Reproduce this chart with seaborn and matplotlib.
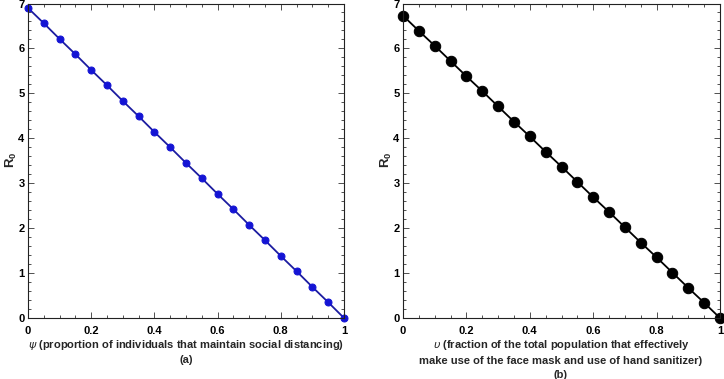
import numpy as np
import pandas as pd
import matplotlib
matplotlib.use("Agg")
import matplotlib.pyplot as plt
from matplotlib.ticker import MultipleLocator
import seaborn as sns

# data
psi = [0.0, 0.05, 0.10, 0.15, 0.20, 0.25, 0.30, 0.35, 0.40, 0.45, 0.50,
       0.55, 0.60, 0.65, 0.70, 0.75, 0.80, 0.85, 0.90, 0.95, 1.0]
r0_a = [6.90, 6.56, 6.21, 5.87, 5.52, 5.18, 4.83, 4.49, 4.14, 3.80, 3.45,
        3.11, 2.76, 2.42, 2.07, 1.73, 1.38, 1.04, 0.69, 0.35, 0.0]
upsilon = list(psi)
r0_b = [6.73, 6.39, 6.06, 5.72, 5.38, 5.05, 4.71, 4.37, 4.04, 3.70, 3.37,
        3.03, 2.69, 2.36, 2.02, 1.68, 1.35, 1.01, 0.67, 0.34, 0.0]
x_ticks = [0, 0.2, 0.4, 0.6, 0.8, 1]
x_tick_labels = ["0", "0.2", "0.4", "0.6", "0.8", "1"]
y_ticks = [0, 1, 2, 3, 4, 5, 6, 7]

sns.set_style("ticks")
plt.rcParams['font.family'] = ['Liberation Sans', 'DejaVu Sans']
plt.rcParams['mathtext.fontset'] = 'custom'
plt.rcParams['mathtext.rm'] = 'Liberation Sans:bold'
plt.rcParams['mathtext.it'] = 'DejaVu Sans:italic'

W, H = 724, 379
fig = plt.figure(figsize=(7.24, 3.79), dpi=100)
ax_a = fig.add_axes([28/W, 1-318/H, (344-28)/W, (318-3.5)/H])
ax_b = fig.add_axes([403/W, 1-318/H, (720-403)/W, (318-3.5)/H])

df_a = pd.DataFrame({"x": psi, "y": r0_a})
df_b = pd.DataFrame({"x": upsilon, "y": r0_b})

sns.lineplot(data=df_a, x="x", y="y", ax=ax_a, color="#1c1ca0", lw=1.3,
             marker="o", markersize=5, markerfacecolor="#1414d4",
             markeredgecolor="#1414d4", clip_on=False)
sns.lineplot(data=df_b, x="x", y="y", ax=ax_b, color="black", lw=1.3,
             marker="o", markersize=7.5, markerfacecolor="black",
             markeredgecolor="black", clip_on=False)

for ax in (ax_a, ax_b):
    ax.set_xlim(0, 1)
    ax.set_ylim(0, 7)
    ax.set_xticks(x_ticks)
    ax.set_xticklabels(x_tick_labels)
    ax.set_yticks(y_ticks)
    ax.xaxis.set_minor_locator(MultipleLocator(0.05))
    ax.yaxis.set_minor_locator(MultipleLocator(0.2))
    ax.tick_params(which='both', direction='in', top=True, right=True,
                   width=0.6, colors='#333333', labelcolor='black',
                   labelsize=8)
    ax.tick_params(axis='x', which='major', pad=6)
    ax.tick_params(axis='y', which='major', pad=2.5)
    ax.tick_params(which='major', length=4)
    ax.tick_params(which='minor', length=2)
    for s in ax.spines.values():
        s.set_visible(True)
        s.set_linewidth(0.8)
        s.set_color('#222222')
    ax.set_xlabel("")
    ax.set_ylabel("")
    ax.grid(False)
    for lab in ax.get_xticklabels() + ax.get_yticklabels():
        lab.set_fontweight('bold')

def ftext(x, y, s, size=8, **kw):
    fig.text(x/W, 1-y/H, s, ha='center', va='center', fontsize=size,
             fontweight='bold', **kw)

ftext(11, 160, r"R$_\mathrm{0}$", size=9.5, rotation=90)
ftext(386, 160, r"R$_\mathrm{0}$", size=9.5, rotation=90)
ftext(186, 345, r"$\psi$ (proportion of individuals that maintain social distancing)")
ftext(186, 360, "(a)")
ftext(561, 345, r"$\upsilon$ (fraction of the total population that effectively")
ftext(561, 360.5, "make use of the face mask and use of hand sanitizer)")
ftext(561, 375, "(b)")

fig.savefig("out.png", dpi=100)
